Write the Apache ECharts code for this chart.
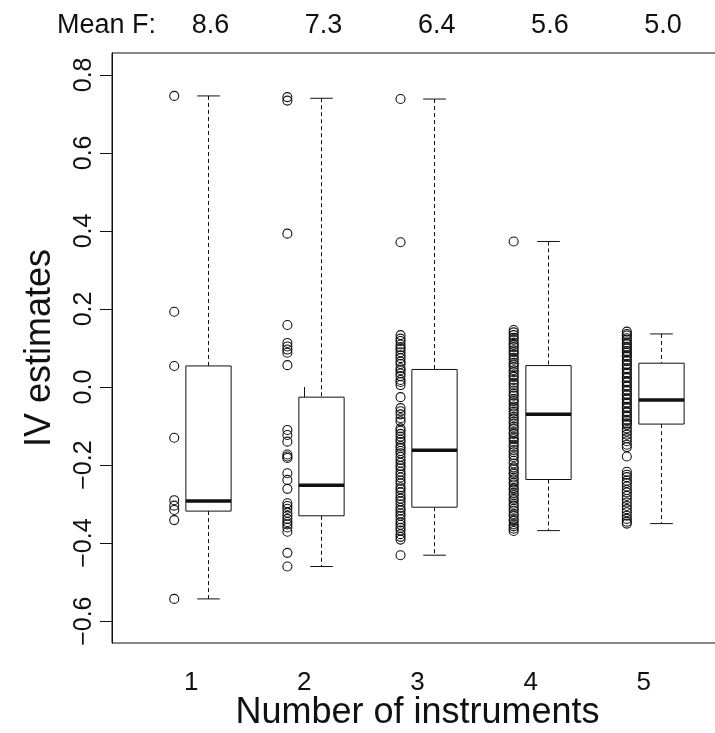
<!DOCTYPE html>
<html>
<head>
<meta charset="utf-8">
<script src="https://cdn.jsdelivr.net/npm/echarts@6/dist/echarts.min.js"></script>
<style>
  html, body { margin: 0; padding: 0; background: #fff; }
  #main { width: 715px; height: 733px; }
</style>
</head>
<body>
<div id="main"></div>
<script>
// groups on the x axis and the mean F shown above each box
var groups = [1, 2, 3, 4, 5];
var meanF = ['8.6', '7.3', '6.4', '5.6', '5.0'];
var yTicks = [-0.6, -0.4, -0.2, 0.0, 0.2, 0.4, 0.6, 0.8];

// box stats: [lower whisker, Q1, median, Q3, upper whisker]
var box1 = [-0.543, -0.318, -0.292, 0.054, 0.746];
var box2 = [-0.460, -0.330, -0.252, -0.026, 0.740];
var box3 = [-0.431, -0.308, -0.162, 0.045, 0.738];
var box4 = [-0.368, -0.237, -0.070, 0.055, 0.373];
var box5 = [-0.350, -0.095, -0.033, 0.061, 0.136];

// individual IV estimates drawn left of each box
var pts1 = [0.746, 0.193, 0.054, -0.130, -0.290, -0.304, -0.315, -0.341, -0.543];
var pts2 = [0.743, 0.734, 0.393, 0.159, 0.113, 0.104, 0.096, 0.088, 0.056,
  -0.110, -0.123, -0.140, -0.173, -0.178, -0.182, -0.221, -0.238, -0.261,
  -0.298, -0.305, -0.312, -0.322, -0.330, -0.338, -0.346, -0.352, -0.360, -0.371,
  -0.425, -0.460];
var pts3 = [0.738, 0.371, 0.133, 0.124, 0.118, 0.109, 0.102, 0.097, 0.089, 0.081,
  0.074, 0.065, 0.059, 0.048, 0.043, 0.035, 0.028, 0.018, 0.013, 0.005,
  -0.026, -0.054, -0.062, -0.070, -0.080, -0.088,
  -0.106, -0.112, -0.120, -0.127, -0.135, -0.141, -0.151, -0.156, -0.164, -0.170,
  -0.179, -0.187, -0.194, -0.202, -0.208, -0.217, -0.224, -0.232, -0.240, -0.247,
  -0.257, -0.262, -0.270, -0.279, -0.286, -0.293, -0.301, -0.310, -0.316, -0.324,
  -0.330, -0.339, -0.347, -0.353, -0.361, -0.368, -0.377, -0.384, -0.391, -0.431];
var pts4 = [0.373, 0.146, 0.140, 0.133, 0.126, 0.121, 0.113, 0.108, 0.102, 0.094,
  0.089, 0.083, 0.075, 0.070, 0.062, 0.057, 0.051, 0.043, 0.038, 0.030, 0.026,
  0.018, 0.011, 0.006, -0.002, -0.009, -0.017, -0.022, -0.031, -0.036, -0.042,
  -0.050, -0.055, -0.063, -0.068, -0.076, -0.081, -0.089, -0.094, -0.102, -0.107,
  -0.116, -0.120, -0.129, -0.134, -0.140, -0.148, -0.153, -0.162, -0.167, -0.175,
  -0.180, -0.189, -0.196, -0.206, -0.211, -0.219, -0.223, -0.232, -0.237, -0.245,
  -0.250, -0.259, -0.263, -0.272, -0.277, -0.286, -0.290, -0.299, -0.304, -0.312,
  -0.317, -0.326, -0.330, -0.339, -0.343, -0.352, -0.357, -0.363, -0.369];
var pts5 = [0.142, 0.136, 0.132, 0.125, 0.121, 0.114, 0.110, 0.103, 0.099, 0.092,
  0.088, 0.081, 0.078, 0.070, 0.067, 0.059, 0.056, 0.048, 0.045, 0.037, 0.034,
  0.026, 0.023, 0.015, 0.012, 0.004, 0.001, -0.007, -0.010, -0.018, -0.021,
  -0.029, -0.032, -0.040, -0.043, -0.051, -0.054, -0.062, -0.065, -0.073, -0.076,
  -0.084, -0.087, -0.093, -0.097, -0.106, -0.114, -0.122, -0.131, -0.139, -0.148,
  -0.154, -0.178, -0.217, -0.225, -0.231, -0.240, -0.246, -0.255, -0.264, -0.270,
  -0.279, -0.287, -0.296, -0.305, -0.313, -0.321, -0.330, -0.338, -0.345, -0.350];

var boxes = [box1, box2, box3, box4, box5];
var points = [pts1, pts2, pts3, pts4, pts5];
var boxOffset = 0.15;   // boxes sit right of the tick
var ptOffset = 0.15;    // points sit left of the tick
var boxWidth = 0.4;

var FONT = "'Liberation Sans', Arial, sans-serif";

var boxData = groups.map(function (g, i) { return [g + boxOffset].concat(boxes[i]); });
var pointData = [];
groups.forEach(function (g, i) {
  points[i].forEach(function (v) { pointData.push([g - ptOffset, v]); });
});

function fmtY(v) {
  var s = (Math.round(v * 10) / 10).toFixed(1);
  return s.replace('-', '\u2212');
}

var myChart = echarts.init(document.getElementById('main'), null, { renderer: 'canvas' });

var option = {
  animation: false,
  backgroundColor: '#fff',
  grid: {
    left: 112, right: -8, top: 53, bottom: 90,
    outerBoundsMode: 'none',
    show: true, borderColor: '#111', borderWidth: 1
  },
  graphic: [{
    type: 'text',
    left: 57, top: 12,
    style: { text: 'Mean F:', font: '27px ' + FONT, fill: '#111' }
  }],
  xAxis: [{
    type: 'value', min: 0.3, max: 5.7,
    splitLine: { show: false },
    axisLine: { show: false },
    axisTick: { show: true, length: 12, customValues: groups, lineStyle: { color: '#111' } },
    axisLabel: {
      customValues: groups, margin: 27, fontSize: 26, color: '#111', fontFamily: FONT,
      formatter: function (v) { return String(v); }
    },
    name: 'Number of instruments', nameLocation: 'middle', nameGap: 52,
    nameMoveOverlap: false,
    nameTextStyle: { fontSize: 36, color: '#111', fontFamily: FONT }
  }, {
    type: 'value', position: 'top', min: 0.3, max: 5.7,
    splitLine: { show: false },
    axisLine: { show: false },
    axisTick: { show: false },
    axisLabel: {
      customValues: groups.map(function (g) { return g + boxOffset + 0.02; }),
      margin: 14, fontSize: 27, color: '#111', fontFamily: FONT,
      formatter: function (v) { return meanF[Math.round(v - boxOffset) - 1]; }
    }
  }],
  yAxis: {
    type: 'value', min: -0.656, max: 0.856,
    splitLine: { show: false },
    axisLine: { show: true, lineStyle: { color: '#111' } },
    axisTick: { show: true, length: 12, customValues: yTicks, lineStyle: { color: '#111' } },
    axisLabel: {
      customValues: yTicks, rotate: 90, margin: 15, fontSize: 25, color: '#111',
      fontFamily: FONT, formatter: fmtY
    },
    name: 'IV estimates', nameLocation: 'middle', nameGap: 54,
    nameMoveOverlap: false,
    nameTextStyle: { fontSize: 36, color: '#111', fontFamily: FONT }
  },
  series: [{
    type: 'scatter',
    data: pointData,
    symbol: 'circle',
    symbolSize: 9,
    itemStyle: { color: 'rgba(255,255,255,0)', borderColor: '#111', borderWidth: 1.1, opacity: 1 },
    emphasis: { disabled: true }
  }, {
    type: 'custom',
    data: boxData,
    encode: { x: 0, y: [1, 2, 3, 4, 5] },
    renderItem: function (params, api) {
      var x = api.value(0);
      var lo = api.coord([x, api.value(1)]);
      var q1 = api.coord([x, api.value(2)]);
      var md = api.coord([x, api.value(3)]);
      var q3 = api.coord([x, api.value(4)]);
      var hi = api.coord([x, api.value(5)]);
      var halfW = api.size([boxWidth, 0])[0] / 2;
      var capW = halfW / 2;
      var cx = Math.round(lo[0]) + 0.5;
      var solid = { stroke: '#111', lineWidth: 1 };
      var dashed = { stroke: '#111', lineWidth: 1, lineDash: [4, 3] };
      return {
        type: 'group',
        children: [
          { type: 'line', shape: { x1: cx, y1: hi[1], x2: cx, y2: q3[1] }, style: dashed },
          { type: 'line', shape: { x1: cx, y1: q1[1], x2: cx, y2: lo[1] }, style: dashed },
          { type: 'line', shape: { x1: cx - capW, y1: hi[1], x2: cx + capW, y2: hi[1] }, style: solid },
          { type: 'line', shape: { x1: cx - capW, y1: lo[1], x2: cx + capW, y2: lo[1] }, style: solid },
          { type: 'rect', shape: { x: cx - halfW, y: q3[1], width: 2 * halfW, height: q1[1] - q3[1] },
            style: { fill: '#fff', stroke: '#111', lineWidth: 1 } },
          { type: 'line', shape: { x1: cx - halfW, y1: md[1], x2: cx + halfW, y2: md[1] },
            style: { stroke: '#111', lineWidth: 3.5 } }
        ]
      };
    }
  }]
};
myChart.setOption(option);
</script>
</body>
</html>
